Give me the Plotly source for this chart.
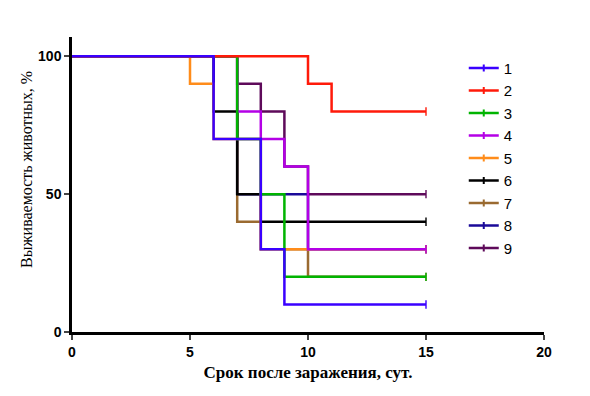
import plotly.graph_objects as go

names = ["1", "2", "3", "4", "5", "6", "7", "8", "9"]
colors = ["#3a00ff", "#ff1a0a", "#00b400", "#b400e6", "#ff8c1a", "#000000", "#9a6a30", "#1a0a99", "#5e0a5a"]

t1 = [0, 6, 8, 9, 15];      s1 = [100, 70, 30, 10, 10]
t2 = [0, 10, 11, 15];       s2 = [100, 90, 80, 80]
t3 = [0, 7, 8, 9, 15];      s3 = [100, 70, 50, 20, 20]
t4 = [0, 7, 8, 9, 10, 15];  s4 = [100, 80, 70, 60, 30, 30]
t5 = [0, 5, 6, 8, 15];      s5 = [100, 90, 70, 30, 30]
t6 = [0, 6, 7, 8, 15];      s6 = [100, 80, 50, 40, 40]
t7 = [0, 7, 8, 10, 15];     s7 = [100, 40, 30, 20, 20]
t8 = [0, 7, 10, 15];        s8 = [100, 50, 30, 30]
t9 = [0, 7, 8, 9, 10, 15];  s9 = [100, 90, 80, 60, 50, 50]

times = [t1, t2, t3, t4, t5, t6, t7, t8, t9]
surv = [s1, s2, s3, s4, s5, s6, s7, s8, s9]

x_ticks = [0, 5, 10, 15, 20]
y_ticks = [0, 50, 100]

fig = go.Figure()
# curves: series 1 drawn last (on top)
for i in reversed(range(9)):
    n = len(times[i])
    fig.add_trace(go.Scatter(
        x=times[i], y=surv[i], name=names[i], mode="lines+markers", showlegend=False,
        line=dict(color=colors[i], width=2.5, shape="hv"),
        marker=dict(symbol="line-ns-open", size=[0] * (n - 1) + [6],
                    line=dict(color=colors[i], width=2), color=colors[i]),
    ))
# legend entries
for i in range(9):
    fig.add_trace(go.Scatter(
        x=[None], y=[None], name=names[i], mode="lines+markers",
        line=dict(color=colors[i], width=2.5),
        marker=dict(symbol="line-ns-open", size=5,
                    line=dict(color=colors[i], width=2), color=colors[i]),
    ))

fig.update_layout(
    width=590, height=396,
    margin=dict(l=72, r=46, t=37, b=64),
    paper_bgcolor="white", plot_bgcolor="white",
    showlegend=True,
    legend=dict(x=0.83, y=0.95, xanchor="left", yanchor="top",
                font=dict(family="Liberation Sans", size=15, color="black"),
                bgcolor="rgba(0,0,0,0)", tracegroupgap=0),
    font=dict(family="Liberation Sans", color="black"),
    annotations=[dict(text="Выживаемость животных, %", xref="paper", yref="paper",
                      x=-0.095, y=0.55, xanchor="center", yanchor="middle",
                      textangle=-90, showarrow=False,
                      font=dict(family="Liberation Serif", size=16, color="black"))],
)
fig.update_xaxes(
    range=[0, 20], tickvals=x_ticks, ticks="outside", ticklen=5, tickwidth=2,
    showline=True, linecolor="black", linewidth=2.5, showgrid=False, zeroline=False,
    tickfont=dict(family="Liberation Sans", size=14, color="black", weight="bold"),
    title=dict(text="Срок после заражения, сут.", standoff=8,
               font=dict(family="Liberation Serif", size=17, color="black", weight="bold")),
)
fig.update_yaxes(
    range=[0, 107], tickvals=y_ticks, ticks="outside", ticklen=5, tickwidth=2,
    showline=True, linecolor="black", linewidth=2.5, showgrid=False, zeroline=False,
    tickfont=dict(family="Liberation Sans", size=14, color="black", weight="bold"),
)

fig.write_html("out.html", config={"displayModeBar": False},
               post_script="document.body.style.margin='0';")
